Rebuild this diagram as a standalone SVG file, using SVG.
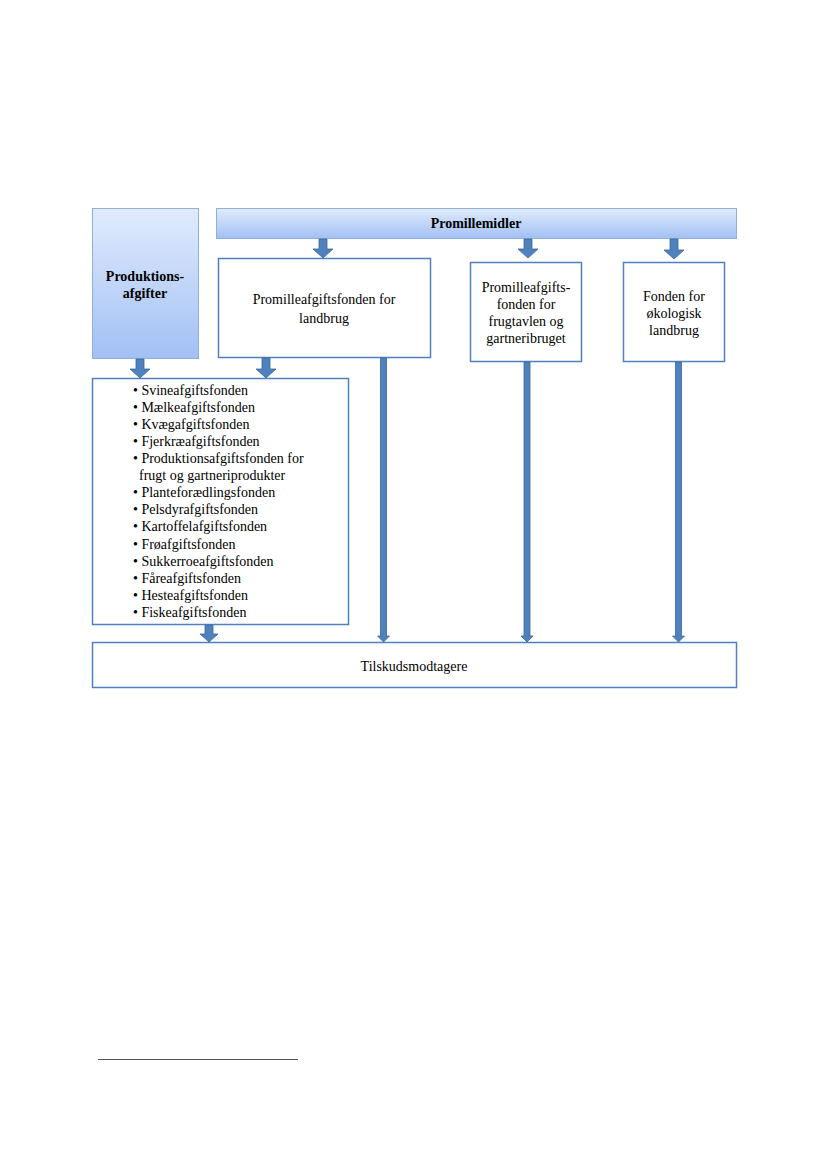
<svg xmlns="http://www.w3.org/2000/svg" width="827" height="1169" viewBox="0 0 827 1169" font-family="'Liberation Serif', 'Times New Roman', 'DejaVu Serif', serif">
<defs>
<linearGradient id="g" x1="0" y1="0" x2="0" y2="1">
<stop offset="0" stop-color="#e1ebfc"/>
<stop offset="1" stop-color="#a2c0f4"/>
</linearGradient>
<style>
.box{fill:#fff;stroke:#4f81bd;stroke-width:1.5}
.gbox{fill:url(#g);stroke:#8fb0dc;stroke-width:1}
.arr{fill:#4f81bd;stroke:#3b689e;stroke-width:0.8}
text{font-family:'Liberation Serif','Times New Roman','DejaVu Serif',serif;font-size:14px;fill:#000}
.b{font-weight:bold}
.c{text-anchor:middle}
</style>
</defs>
<rect width="827" height="1169" fill="#fff"/>
<g id="produktionsafgifter">
<rect class="gbox" x="92.5" y="208.5" width="106" height="150"/>
<text class="b c" x="145" y="281">Produktions-</text>
<text class="b c" x="145" y="298">afgifter</text>
</g>
<g id="promillemidler">
<rect class="gbox" x="216.5" y="208.5" width="520" height="30"/>
<text class="b c" x="476" y="228">Promillemidler</text>
</g>
<g id="landbrug">
<rect class="box" x="218.5" y="258.5" width="212" height="99"/>
<text class="c" x="324" y="304">Promilleafgiftsfonden  for</text>
<text class="c" x="324" y="323">landbrug</text>
</g>
<g id="frugtavlen">
<rect class="box" x="470.5" y="262.5" width="111" height="99"/>
<text class="c" x="526" y="292">Promilleafgifts-</text>
<text class="c" x="526" y="309">fonden for</text>
<text class="c" x="526" y="326">frugtavlen og</text>
<text class="c" x="526" y="343">gartneribruget</text>
</g>
<g id="oekologisk">
<rect class="box" x="623.5" y="262.5" width="101" height="99"/>
<text class="c" x="674" y="301">Fonden for</text>
<text class="c" x="674" y="318">økologisk</text>
<text class="c" x="674" y="335">landbrug</text>
</g>
<g id="produktionsfonde">
<rect class="box" x="92.5" y="378.5" width="256" height="246"/>
<text x="133" y="395">• Svineafgiftsfonden</text>
<text x="133" y="412">• Mælkeafgiftsfonden</text>
<text x="133" y="429">• Kvægafgiftsfonden</text>
<text x="133" y="446">• Fjerkræafgiftsfonden</text>
<text x="133" y="463">• Produktionsafgiftsfonden  for</text>
<text x="139" y="480">frugt og gartneriprodukter</text>
<text x="133" y="497">• Planteforædlingsfonden</text>
<text x="133" y="514">• Pelsdyrafgiftsfonden</text>
<text x="133" y="531">• Kartoffelafgiftsfonden</text>
<text x="133" y="549">• Frøafgiftsfonden</text>
<text x="133" y="566">• Sukkerroeafgiftsfonden</text>
<text x="133" y="583">• Fåreafgiftsfonden</text>
<text x="133" y="600">• Hesteafgiftsfonden</text>
<text x="133" y="617">• Fiskeafgiftsfonden</text>
</g>
<g id="tilskudsmodtagere">
<rect class="box" x="92.5" y="642.5" width="644" height="45"/>
<text class="c" x="414" y="671">Tilskudsmodtagere</text>
</g>
<g id="connectors">
<path class="arr" d="M319,239 h8 v10 h6 l-10,9 l-10,-9 h6 z"/>
<path class="arr" d="M524,239 h8 v10 h6 l-10,9 l-10,-9 h6 z"/>
<path class="arr" d="M670,239 h8 v11 h6 l-10,9 l-10,-9 h6 z"/>
<path class="arr" d="M136,359 h8 v10 h6 l-10,9 l-10,-9 h6 z"/>
<path class="arr" d="M262,358 h8 v11 h6 l-10,9 l-10,-9 h6 z"/>
<path class="arr" d="M205,625 h8 v9 h5 l-9,8 l-9,-8 h5 z"/>
<path class="arr" d="M380.5,358 h6 v278 h3 l-6,6 l-6,-6 h3 z"/>
<path class="arr" d="M524,362 h6 v274 h3 l-6,6 l-6,-6 h3 z"/>
<path class="arr" d="M675.5,362 h6 v274 h3 l-6,6 l-6,-6 h3 z"/>
</g>
<line x1="98" y1="1059.5" x2="298" y2="1059.5" stroke="#555" stroke-width="1"/>
</svg>
